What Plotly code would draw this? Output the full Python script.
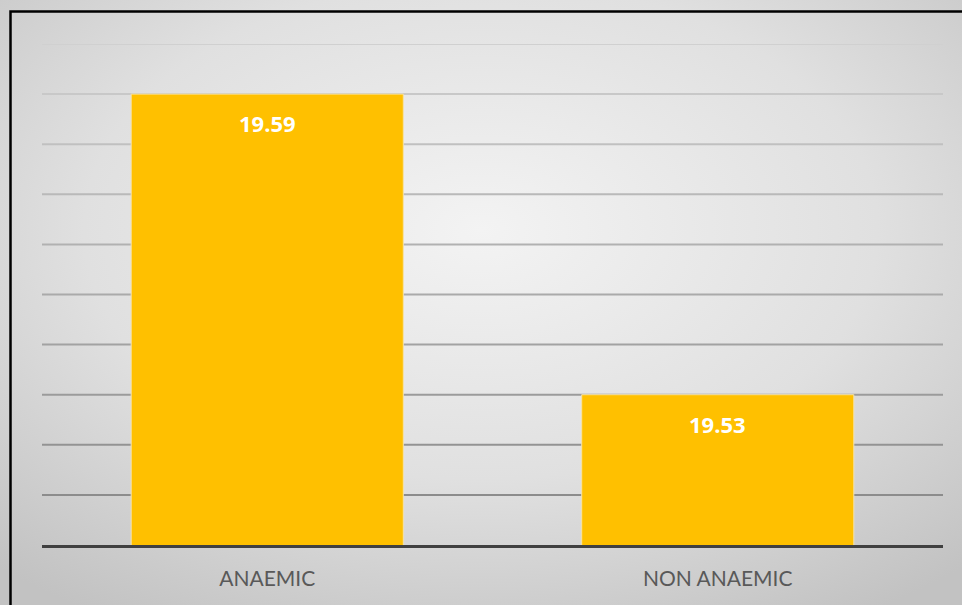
import base64
import plotly.graph_objects as go

# Mean values per group
categories = ["ANAEMIC", "NON ANAEMIC"]
values = [19.59, 19.53]

# Value axis
y_min, y_max, y_step = 19.50, 19.60, 0.01
grid_values = [19.51, 19.52, 19.53, 19.54, 19.55, 19.56, 19.57, 19.58, 19.59, 19.60]

W, H = 962, 605
ML, MR, MT, MB = 42, 19, 44, 60
PW, PH = W - ML - MR, H - MT - MB

BAR_COLOR = "#FFC000"

# Soft radial backdrop behind the chart
svg = f"""<svg xmlns='http://www.w3.org/2000/svg' width='{W}' height='{H}' viewBox='0 0 {W} {H}' preserveAspectRatio='none'>
<defs><radialGradient id='g' cx='50%' cy='38%' r='75%'>
<stop offset='0%' stop-color='#f3f3f3'/>
<stop offset='55%' stop-color='#e0e0e0'/>
<stop offset='100%' stop-color='#c2c2c2'/>
</radialGradient></defs>
<rect width='{W}' height='{H}' fill='url(#g)'/></svg>"""
bg_uri = "data:image/svg+xml;base64," + base64.b64encode(svg.encode()).decode()

fig = go.Figure()
fig.add_trace(go.Bar(
    x=categories,
    y=values,
    marker=dict(color=BAR_COLOR, line=dict(color="#f6e3a8", width=1)),
    width=0.604,
    hoverinfo="x+y",
))

# Value labels inside the top of each bar
for c, v in zip(categories, values):
    fig.add_annotation(
        x=c, y=v, text=f"<b>{v:.2f}</b>", showarrow=False,
        yanchor="top", yshift=-12,
        font=dict(family="Open Sans, sans-serif", size=22, color="white"),
    )

# Gridlines, shading darker toward the baseline
n = len(grid_values)
shapes = []
for i, gv in enumerate(grid_values):
    t = i / (n - 1)  # 0 at bottom, 1 at top
    shade = int(140 + t * (208 - 140))
    col = f"rgb({shade},{shade},{shade})"
    shapes.append(dict(type="line", xref="paper", yref="y", x0=0, x1=1, y0=gv, y1=gv,
                       line=dict(color=col, width=2), layer="below"))

# Outer frame (left and top edges visible)
shapes.append(dict(type="rect", xref="paper", yref="paper",
                   x0=(10.5 - ML) / PW, x1=(W + 20 - ML) / PW,
                   y0=(MT + PH - (H + 20)) / PH, y1=(MT + PH - 11.5) / PH,
                   line=dict(color="black", width=2.5), fillcolor="rgba(0,0,0,0)", layer="above"))

fig.update_layout(
    width=W, height=H,
    margin=dict(l=ML, r=MR, t=MT, b=MB),
    paper_bgcolor="#d8d8d8",
    plot_bgcolor="rgba(0,0,0,0)",
    showlegend=False,
    bargap=0.4,
    shapes=shapes,
    images=[dict(source=bg_uri, xref="paper", yref="paper",
                 x=-ML / PW, y=1 + MT / PH, sizex=W / PW, sizey=H / PH,
                 xanchor="left", yanchor="top", sizing="stretch", layer="below")],
    xaxis=dict(
        showgrid=False, zeroline=False,
        showline=True, linecolor="#404040", linewidth=3,
        ticks="outside", ticklen=0, tickcolor="rgba(0,0,0,0)",
        ticklabelstandoff=13,
        tickfont=dict(family="Lato, Open Sans, sans-serif", size=21, color="#595959"),
    ),
    yaxis=dict(
        range=[y_min, y_max], dtick=y_step,
        showgrid=False, zeroline=False, showline=False, showticklabels=False,
    ),
)

fig.write_html("out.html")
